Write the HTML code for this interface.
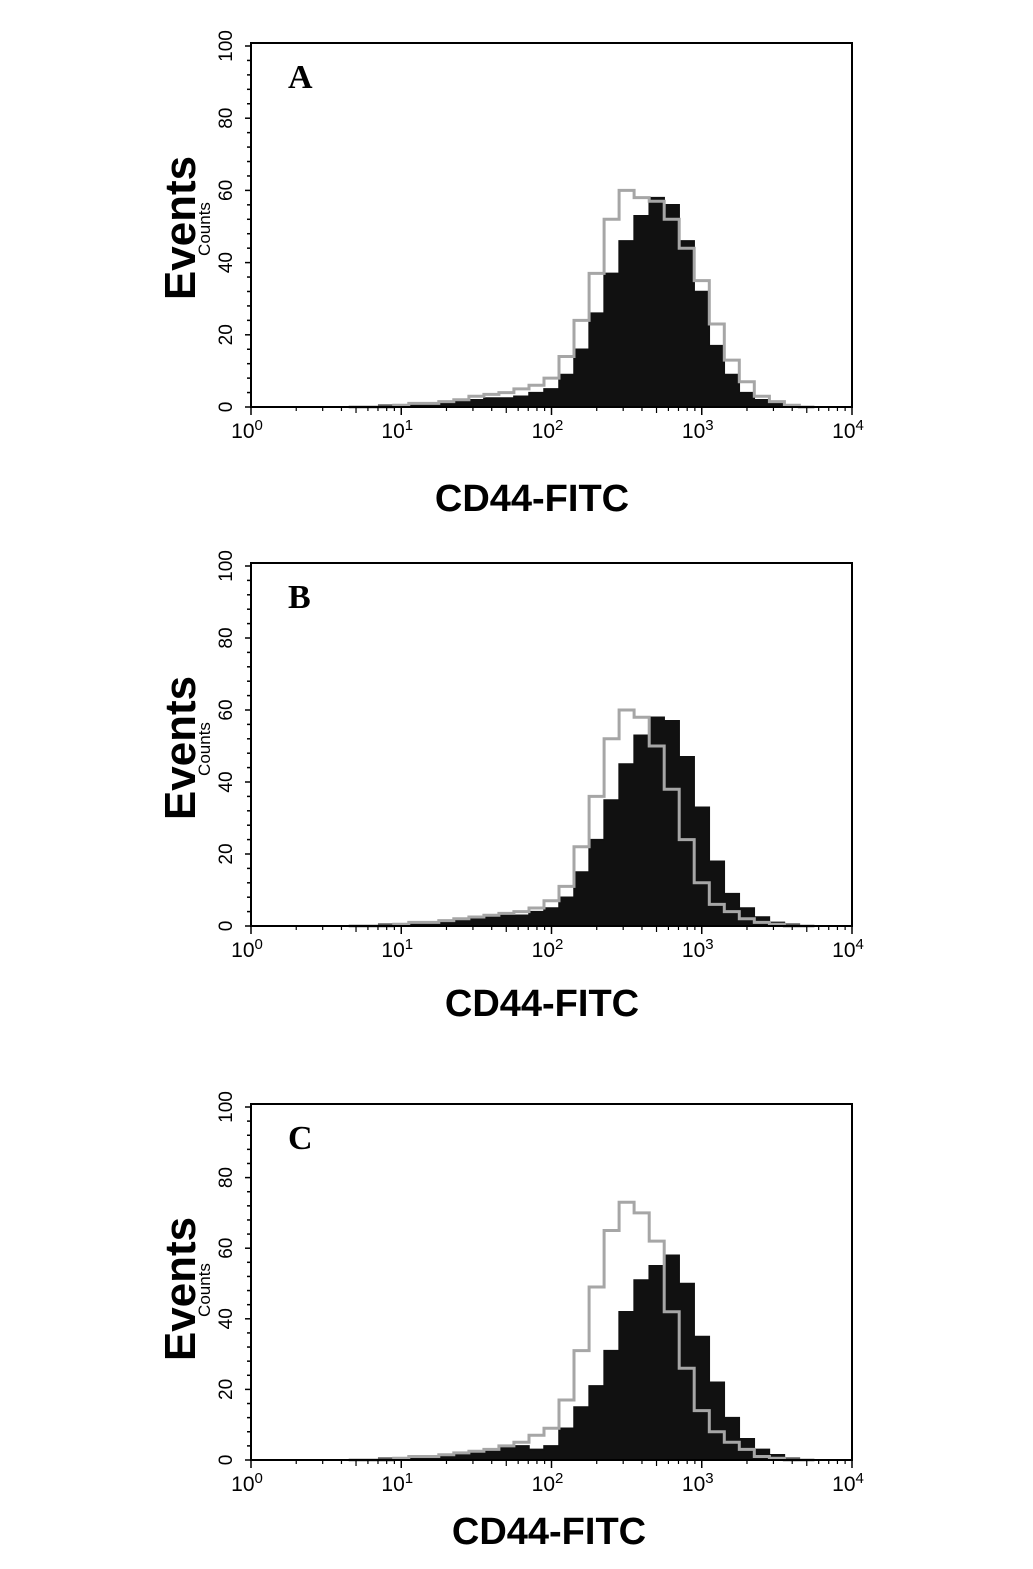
<!DOCTYPE html>
<html><head><meta charset="utf-8"><style>
html,body{margin:0;padding:0;background:#fff;}
svg{display:block;}
</style></head><body>
<svg id="fig" width="1033" height="1569" viewBox="0 0 1033 1569" xmlns="http://www.w3.org/2000/svg" font-family="Liberation Sans, sans-serif"></svg>
<script>
// log10 bin centers from 0.7 to 3.7, step 0.1
const binStart = 0.7;
const binStep = 0.1;
const panelLetters = ["A","B","C"];
const blackA = [0,0,0.5,0.5,1,1,1.5,2,2,2.5,2.5,3,4,5,9,16,26,37,46,53,58,56,46,32,17,9,4,2,1,0.5,0];
const grayA  = [0,0,0,0.5,1,1,1.5,2,3,3.5,4,5,6,8,14,24,37,52,60,58,57,52,44,35,23,13,7,3,1.5,0.5,0];
const blackB = [0,0,0.5,0.5,1,1,1.5,2,2,2.5,3,3,4,5,8,15,24,35,45,53,58,57,47,33,18,9,5,2.5,1,0.5,0];
const grayB  = [0,0,0,0.5,1,1,1.5,2,2.5,3,3.5,4,5,7,11,22,36,52,60,58,50,38,24,12,6,4,2,1,0.5,0,0];
const blackC = [0,0,0.5,0.5,1,1,1.5,2,2.5,3,3.5,4,3,4,9,15,21,31,42,51,55,58,50,35,22,12,6,3,1.5,0.5,0];
const grayC  = [0,0,0,0.5,1,1,1.5,2,2.5,3,4,5,7,9,17,31,49,65,73,70,62,42,26,14,8,5,3,1,0.5,0,0];
const yTicks = [0,20,40,60,80,100];
const xDecades = [0,1,2,3,4];

const NS="http://www.w3.org/2000/svg";
const svg=document.getElementById('fig');
function mk(tag,attrs,parent){const e=document.createElementNS(NS,tag);for(const k in attrs)e.setAttribute(k,attrs[k]);(parent||svg).appendChild(e);return e;}

const panels=[
 {top:43,zero:407,black:blackA,gray:grayA,title:495},
 {top:563,zero:926,black:blackB,gray:grayB,title:1000},
 {top:1104,zero:1460,black:blackC,gray:grayC,title:1528}
];
const X0=251,X1=852;
panels.forEach((p,i)=>{
  const g=mk('g',{});
  
  
  const y100=p.top+3;
  const sx=v=>X0+(X1-X0)*v/4;
  const sy=v=>p.zero-(p.zero-y100)*v/100;
  function stepPath(arr){let d='';arr.forEach((v,k)=>{const xa=sx(binStart+binStep*(k-0.5)),xb=sx(binStart+binStep*(k+0.5));d+=(k?'L':'M')+xa.toFixed(1)+','+sy(v).toFixed(1)+'L'+xb.toFixed(1)+','+sy(v).toFixed(1);});return d;}
  const bd=stepPath(p.black);
  const fill=mk('path',{d:bd+'L'+sx(binStart+binStep*(p.black.length-0.5))+','+p.zero+'L'+sx(binStart-binStep/2)+','+p.zero+'Z',fill:'#111',stroke:'#111','stroke-width':1.5},g);
  
  
  const gl=mk('path',{d:stepPath(p.gray),fill:'none',stroke:'#a6a6a6','stroke-width':3},g);
  
  
  const box=mk('rect',{x:X0,y:p.top,width:X1-X0,height:p.zero-p.top,fill:'none',stroke:'#000','stroke-width':2},g);
  
  
  for(let v=0;v<=100;v+=4){mk('line',{x1:X0-(v%20===0?6:4),x2:X0,y1:sy(v),y2:sy(v),stroke:'#000','stroke-width':1.5},g);}
  yTicks.forEach(v=>{const t=mk('text',{x:0,y:0,'font-size':19,'text-anchor':'middle',transform:'translate('+(X0-19)+','+sy(v)+') rotate(-90)',fill:'#000'},g);t.textContent=v;
    
    });
  xDecades.forEach(d=>{
    mk('line',{x1:sx(d),x2:sx(d),y1:p.zero,y2:p.zero+8,stroke:'#000','stroke-width':1.5},g);
    if(d<4)for(let m=2;m<10;m++){const x=sx(d+Math.log10(m));mk('line',{x1:x,x2:x,y1:p.zero,y2:p.zero+(m===5?6:4),stroke:'#000','stroke-width':1.2},g);}
    const t=mk('text',{x:sx(d)-4,y:p.zero+31,'font-size':21,'text-anchor':'middle',fill:'#000'},g);
    t.textContent='10';
    const s=mk('tspan',{dy:-8,'font-size':15},t);s.textContent=d;
    
    
  });
  const ev=mk('text',{x:0,y:0,'font-size':44,'font-weight':'bold','text-anchor':'middle',transform:'translate(195,'+(p.top+185)+') rotate(-90)',fill:'#000'},g);
  ev.textContent='Events';
  
  
  const ct=mk('text',{x:0,y:0,'font-size':17,'text-anchor':'middle',transform:'translate(210,'+(p.top+186)+') rotate(-90)',fill:'#000'},g);
  ct.textContent='Counts';
  
  
  const xt=mk('text',{x:[532,542,549][i],y:p.title+16,'font-size':38,'font-weight':'bold','text-anchor':'middle',fill:'#000'},g);
  xt.textContent='CD44-FITC';
  
  
  const lt=mk('text',{x:288,y:p.top+45,'font-size':34,'font-weight':'bold','font-family':'Liberation Serif, serif',fill:'#000'},g);
  lt.textContent=panelLetters[i];
  
  
});
</script>
</body></html>
